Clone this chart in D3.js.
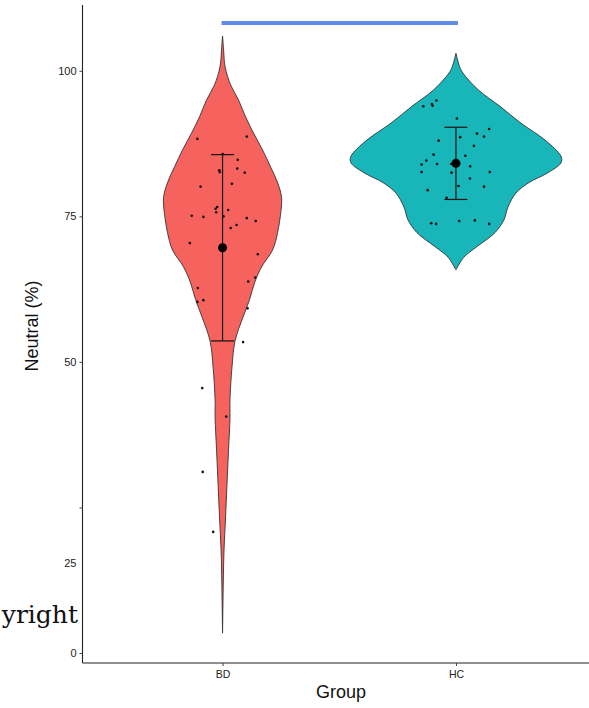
<html>
<head>
  <script src="https://d3js.org/d3.v7.min.js"></script>
  <style>
    body { margin: 0; background: #fff; }
    svg { display: block; font-family: "Liberation Sans", Arial, sans-serif; }
  </style>
</head>
<body>
<svg id="chart" width="589" height="708"></svg>
<script>
  // groups and colours
  const groups = ["BD", "HC"];
  const groupColors = ["#f6625d", "#18b5b9"];

  // y axis ticks (the "25" label sits lower than its tick in the original)
  const yTicks = [0, 25, 50, 75, 100];

  // violin outlines: value (%) and relative half width
  const bdViolinValues = [106, 103.6, 100.7, 97.6, 95, 92.1, 89.3, 86.4, 83.5, 80.8, 78.2, 75.3, 72.2, 69.2, 66.3, 63.6, 60.7, 57.7, 53.6, 49.1, 43.5, 40.5, 34.9, 29.2, 23.4, 17.7, 12, 3.4];
  const bdViolinWidths = [0, 0.01, 0.024, 0.076, 0.152, 0.219, 0.295, 0.381, 0.457, 0.524, 0.562, 0.552, 0.524, 0.476, 0.371, 0.305, 0.257, 0.195, 0.119, 0.09, 0.071, 0.071, 0.057, 0.043, 0.029, 0.014, 0.007, 0];
  const hcViolinValues = [103, 100.7, 99.6, 96.7, 93.9, 91, 88.1, 85.3, 84.2, 82.5, 80.8, 79, 76.6, 74.4, 72.2, 69.8, 68, 65.8];
  const hcViolinWidths = [0, 0.035, 0.067, 0.214, 0.419, 0.619, 0.848, 1, 1, 0.876, 0.695, 0.571, 0.495, 0.457, 0.371, 0.2, 0.076, 0];

  // mean and SD
  const means = [69.6, 84.1];
  const sds = [16, 6.2];

  // individual points: value and jitter (x data units)
  const bdValues = [88.3, 88.7, 85.7, 84.7, 82.9, 82.6, 83.2, 82.5, 80.1, 80.6, 76.3, 76.6, 75.7, 76.1, 75.1, 74.9, 75.0, 74.7, 74.2, 73.5, 73.0, 70.4, 68.5, 64.5, 63.8, 62.7, 60.6, 60.3, 59.2, 53.4, 45.5, 40.6, 31.1, 20.8];
  const bdJitter = [-0.108, 0.104, 0.001, 0.065, -0.014, -0.012, 0.063, 0.095, -0.094, 0.040, -0.030, -0.023, -0.027, 0.024, -0.132, -0.082, 0.004, 0.104, 0.142, 0.060, 0.035, -0.140, 0.151, 0.140, 0.110, -0.106, -0.082, -0.108, 0.107, 0.088, -0.087, 0.016, -0.085, -0.040];
  const hcValues = [93.9, 94.3, 94.0, 94.9, 91.8, 90.0, 89.2, 88.7, 88.6, 88.0, 87.1, 85.6, 85.4, 84.6, 83.9, 84.0, 84.0, 83.6, 82.6, 82.5, 82.6, 81.5, 80.2, 80.1, 79.5, 78.2, 73.8, 73.7, 74.2, 74.3, 73.7];
  const hcJitter = [-0.140, -0.103, -0.100, -0.084, 0.004, 0.142, 0.090, 0.120, 0.018, -0.074, 0.077, -0.096, 0.040, -0.127, -0.147, -0.081, -0.020, 0.061, -0.147, -0.019, 0.145, 0.060, 0.011, 0.120, -0.121, -0.040, -0.106, -0.085, 0.014, 0.081, 0.142];

  const svg = d3.select("#chart");
  const plotLeft = 82.5, plotRight = 596, plotTop = 5, plotBottom = 663;

  const x = d3.scalePoint().domain(groups).range([plotLeft, plotRight]).padding(0.6);
  const y = d3.scaleLinear().domain([-1.72, 111.3]).range([plotBottom, plotTop]);
  const w = d3.scaleLinear().domain([0, 1]).range([0, 0.45 * x.step()]);
  const unit = x.step(); // px per x data unit

  const violins = [
    {g: "BD", vals: bdViolinValues, ws: bdViolinWidths},
    {g: "HC", vals: hcViolinValues, ws: hcViolinWidths}
  ];

  violins.forEach((v, i) => {
    const pts = v.vals.map((val, k) => ({val: val, wd: v.ws[k]}));
    const area = d3.area()
      .curve(d3.curveCatmullRom)
      .y(d => y(d.val))
      .x0(d => x(v.g) - w(d.wd))
      .x1(d => x(v.g) + w(d.wd));
    svg.append("path")
      .attr("d", area(pts))
      .attr("fill", groupColors[i])
      .attr("stroke", "#333")
      .attr("stroke-width", 0.9);
  });

  // jittered points
  const points = [
    {g: "BD", vals: bdValues, jit: bdJitter},
    {g: "HC", vals: hcValues, jit: hcJitter}
  ];
  points.forEach(p => {
    svg.append("g").selectAll("circle")
      .data(p.vals)
      .join("circle")
      .attr("cx", (d, k) => x(p.g) + p.jit[k] * unit)
      .attr("cy", d => y(d))
      .attr("r", 1.3)
      .attr("fill", "#111");
  });

  // error bars + means
  groups.forEach((g, i) => {
    const cx = x(g);
    const eb = svg.append("g").attr("stroke", "#111").attr("stroke-width", 1.2);
    eb.append("line").attr("x1", cx).attr("x2", cx).attr("y1", y(means[i] + sds[i])).attr("y2", y(means[i] - sds[i]));
    [means[i] + sds[i], means[i] - sds[i]].forEach(v => {
      eb.append("line").attr("x1", cx - 11.5).attr("x2", cx + 11.5).attr("y1", y(v)).attr("y2", y(v));
    });
    svg.append("circle").attr("cx", cx).attr("cy", y(means[i])).attr("r", 4.5).attr("fill", "#000");
  });

  // significance line
  svg.append("line")
    .attr("x1", x("BD") - 1).attr("x2", x("HC") + 2)
    .attr("y1", 23).attr("y2", 23)
    .attr("stroke", "#5f8de8").attr("stroke-width", 4);

  // axes
  const yAxis = svg.append("g")
    .attr("transform", `translate(${plotLeft},0)`)
    .call(d3.axisLeft(y).tickValues(yTicks).tickSize(3).tickPadding(3));
  yAxis.select(".domain").attr("stroke", "#222").attr("stroke-width", 1.1).attr("d", `M0,${plotTop}V${plotBottom}`);
  yAxis.selectAll(".tick line").attr("stroke", "#444");
  yAxis.selectAll(".tick text").attr("font-size", 11).attr("fill", "#222")
    .attr("font-family", "Liberation Sans, Arial, sans-serif")
    .attr("dy", d => d === 25 ? 55.5 + 3.5 : 3.5);

  const xAxis = svg.append("g")
    .attr("transform", `translate(0,${plotBottom})`)
    .call(d3.axisBottom(x).tickSize(3).tickPadding(5));
  xAxis.select(".domain").attr("stroke", "#222").attr("stroke-width", 1.1).attr("d", `M${plotLeft},0H${plotRight}`);
  xAxis.selectAll(".tick line").attr("stroke", "#444");
  xAxis.selectAll(".tick text").attr("font-size", 10.5).attr("fill", "#222")
    .attr("font-family", "Liberation Sans, Arial, sans-serif");

  svg.append("text")
    .attr("x", 341).attr("y", 698)
    .attr("text-anchor", "middle")
    .attr("font-size", 18).attr("fill", "#111")
    .text("Group");

  svg.append("text")
    .attr("transform", "translate(38,326) rotate(-90)")
    .attr("text-anchor", "middle")
    .attr("font-size", 18).attr("fill", "#111")
    .text("Neutral (%)");

  // watermark fragment as it shows in the reference
  svg.append("text")
    .attr("x", 78).attr("y", 623)
    .attr("text-anchor", "end")
    .attr("font-family", "DejaVu Serif, serif")
    .attr("font-size", 25).attr("fill", "#111")
    .text("yright");
</script>
</body>
</html>
